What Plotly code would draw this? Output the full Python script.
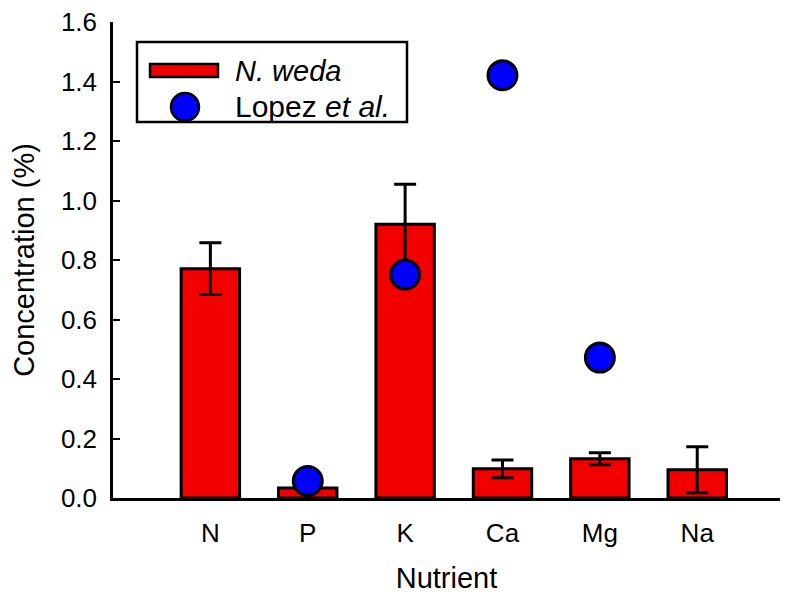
import plotly.graph_objects as go

nutrients = ["N", "P", "K", "Ca", "Mg", "Na"]
weda_mean = [0.771, 0.034, 0.920, 0.098, 0.132, 0.095]
weda_err = [0.087, 0.005, 0.135, 0.030, 0.020, 0.077]
lopez_nutrients = ["P", "K", "Ca", "Mg"]
lopez_vals = [0.057, 0.751, 1.421, 0.472]

pos = {n: i for i, n in enumerate(nutrients)}
FONT = "Liberation Sans, Arial, sans-serif"


def px(X):
    return (X - 113) / 667


def py(Y):
    return (498 - Y) / 476


fig = go.Figure()
fig.add_trace(go.Bar(
    x=[pos[n] for n in nutrients], y=weda_mean, width=0.6,
    marker=dict(color="#f20000", line=dict(color="black", width=3)),
    error_y=dict(type="data", array=weda_err, color="black", thickness=3, width=11),
    showlegend=False,
))
fig.add_trace(go.Scatter(
    x=[pos[n] for n in lopez_nutrients], y=lopez_vals, mode="markers",
    marker=dict(color="#0000ff", size=29, line=dict(color="black", width=3)),
    showlegend=False,
))

# manual legend
shapes = [
    dict(type="rect", xref="paper", yref="paper", x0=px(137), x1=px(407),
         y0=py(122), y1=py(42), line=dict(color="black", width=2.5),
         fillcolor="white", layer="above"),
    dict(type="rect", xref="paper", yref="paper", x0=px(150), x1=px(218),
         y0=py(77), y1=py(64), line=dict(color="black", width=2.5),
         fillcolor="#f20000", layer="above"),
    dict(type="circle", xref="paper", yref="paper", x0=px(171), x1=px(199),
         y0=py(121), y1=py(93), line=dict(color="black", width=2.5),
         fillcolor="#0000ff", layer="above"),
]
annotations = [
    dict(text="<i>N. weda</i>", xref="paper", yref="paper", x=px(233), y=py(71),
         xanchor="left", yanchor="middle", showarrow=False,
         font=dict(size=29, color="black", family=FONT)),
    dict(text="Lopez <i>et al.</i>", xref="paper", yref="paper", x=px(233), y=py(106),
         xanchor="left", yanchor="middle", showarrow=False,
         font=dict(size=30, color="black", family=FONT)),
]

fig.update_layout(
    width=782, height=586,
    margin=dict(l=105, r=10, t=14, b=96),
    plot_bgcolor="white", paper_bgcolor="white",
    font=dict(family=FONT, size=26, color="black"),
    shapes=shapes, annotations=annotations,
    xaxis=dict(range=[-1.0, 5.85], tickvals=list(range(len(nutrients))), ticktext=nutrients,
               showline=True, linecolor="black", linewidth=2.5, ticks="", showgrid=False,
               zeroline=False, ticklabelstandoff=10, tickfont=dict(size=26),
               automargin=False,
               title=dict(text="Nutrient", font=dict(size=29), standoff=22)),
    yaxis=dict(range=[0, 1.6], tickvals=[0, 0.2, 0.4, 0.6, 0.8, 1.0, 1.2, 1.4, 1.6],
               tickformat=".1f", showline=True, linecolor="black", linewidth=2.5,
               ticks="inside", ticklen=7, tickwidth=2, tickcolor="black",
               showgrid=False, zeroline=False, ticklabelstandoff=8, tickfont=dict(size=26),
               ticklabeloverflow="allow", automargin=False,
               title=dict(text="Concentration (%)", font=dict(size=29), standoff=20)),
)
fig.write_html("out.html")
